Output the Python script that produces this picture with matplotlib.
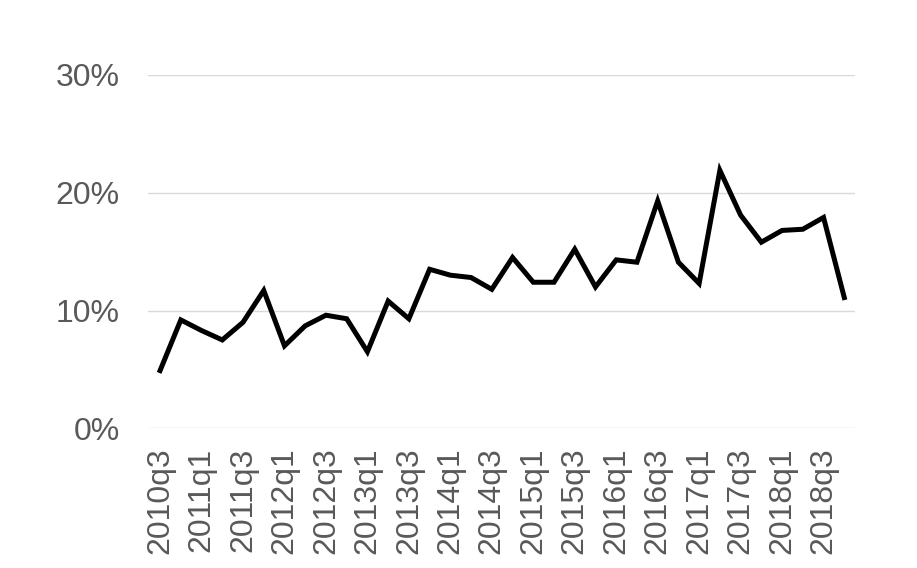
import matplotlib
matplotlib.use("Agg")
import matplotlib.pyplot as plt
from matplotlib.ticker import FuncFormatter

quarters = [
    "2010q3", "2010q4", "2011q1", "2011q2", "2011q3", "2011q4",
    "2012q1", "2012q2", "2012q3", "2012q4", "2013q1", "2013q2",
    "2013q3", "2013q4", "2014q1", "2014q2", "2014q3", "2014q4",
    "2015q1", "2015q2", "2015q3", "2015q4", "2016q1", "2016q2",
    "2016q3", "2016q4", "2017q1", "2017q2", "2017q3", "2017q4",
    "2018q1", "2018q2", "2018q3", "2018q4",
]
values = [
    4.9, 9.2, 8.3, 7.5, 9.0, 11.7,
    7.0, 8.7, 9.6, 9.3, 6.5, 10.8,
    9.3, 13.5, 13.0, 12.8, 11.8, 14.5,
    12.4, 12.4, 15.2, 12.0, 14.3, 14.1,
    19.3, 14.1, 12.3, 21.9, 18.1, 15.8,
    16.8, 16.9, 17.9, 11.1,
]
yticks = [0, 10, 20, 30]

plt.rcParams['font.family'] = ['Liberation Sans', 'DejaVu Sans']

fig = plt.figure(figsize=(9.17, 5.68), dpi=100)
ax = fig.add_axes([0.161, 0.246, 0.771, 0.622])

x = list(range(len(quarters)))
ax.plot(x, values, color='black', linewidth=3.6, solid_joinstyle='miter', zorder=3)

ax.set_ylim(0, 30)
ax.set_xlim(-0.6, len(quarters) - 0.5)
ax.set_yticks(yticks)
ax.yaxis.set_major_formatter(FuncFormatter(lambda v, p: f"{v:.0f}%"))
ax.set_xticks(x[::2])
ax.set_xticklabels(quarters[::2], rotation=90)

ax.grid(axis='y', color='#d9d9d9', linewidth=1.0)
ax.set_axisbelow(True)
for s in ax.spines.values():
    s.set_visible(False)
ax.tick_params(axis='both', length=0, colors='#595959', labelsize=23)
ax.tick_params(axis='y', pad=20)
ax.tick_params(axis='x', pad=14)

fig.savefig("out.png", dpi=100)
